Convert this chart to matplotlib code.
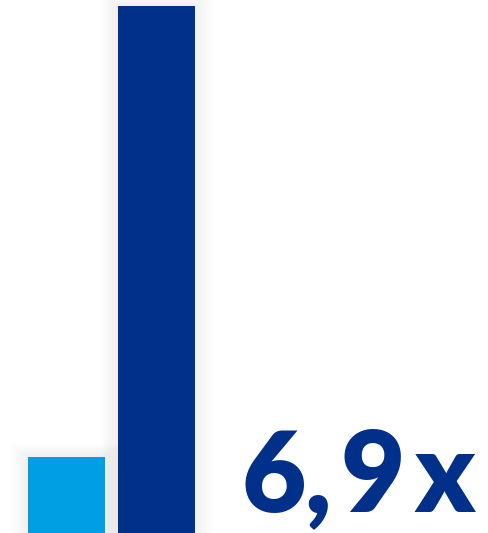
import numpy as np
import matplotlib.pyplot as plt

# data
categories = ['before', 'after']
values = [1.0, 6.9]
bar_colors = ['#009FE3', '#00308A']
label_text = '6,9x'

W, H = 488, 533
fig = plt.figure(figsize=(W / 100, H / 100), dpi=100)
ax = fig.add_axes([0, 0, 1, 1])

step_px = 90.0
x0_px = 66.5
x = np.arange(len(categories))
width = 77 / step_px

# soft shadow behind bars
for k in range(1, 16):
    grow = k * 1.2 / step_px
    for xi, v in zip(x, values):
        ax.bar(xi, v + k * 0.011, width=width + 2 * grow, bottom=0,
               color='black', alpha=0.0045, linewidth=0, zorder=1)

ax.bar(x, values, width=width, color=bar_colors, linewidth=0, zorder=3)

ax.set_xlim(-x0_px / step_px, (W - x0_px) / step_px)
ax.set_ylim(0, max(values) * H / 527)
ax.axis('off')

# wide letter spacing: place each character of the label
char_centers = [274, 318, 373, 445]
for ch, cx in zip(label_text, char_centers):
    fig.text(cx / W, 21 / H, ch, ha='center', va='baseline',
             fontsize=80, fontweight='heavy', family=['Lato', 'DejaVu Sans'],
             color='#00308A')

fig.savefig('out.png', dpi=100)
